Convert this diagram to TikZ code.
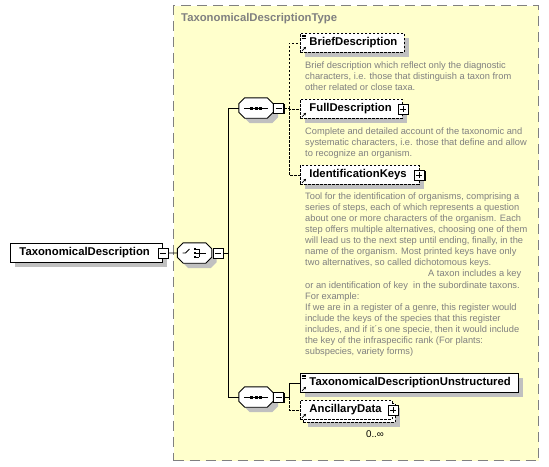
\documentclass[tikz,border=0pt]{standalone}
\usepackage{fontspec}
\setmainfont{Liberation Sans}
\usepackage{tikz}
\usetikzlibrary{positioning,shadows,arrows.meta}

\definecolor{typefill}{RGB}{255,255,204}
\definecolor{typeline}{RGB}{128,128,128}
\definecolor{doctext}{RGB}{128,128,128}
\definecolor{shadegray}{RGB}{192,192,192}

\newcommand{\elemfont}{\fontsize{11.3}{13}\selectfont\bfseries}
\newcommand{\docfont}{\fontsize{9.3}{11.07}\selectfont}
% small marks inside element boxes and compositors
\newcommand{\refarrow}[1]{\draw[line width=0.7pt,-{Stealth[length=2.4pt,width=2.6pt]}] ([shift={(2,-2)}]#1.south west) -- ++(4,-4);}
\newcommand{\simplemark}[1]{\foreach \k in {2,3.5,5} \draw[line width=0.5pt] ([shift={(1.5,\k)}]#1.north west) -- ++(4,0);}
% octagon outline round a compositor node
\newcommand{\octpath}[1]{([yshift=-6pt]#1.north west) -- ([xshift=6pt]#1.north west) -- ([xshift=-6pt]#1.north east)
  -- ([yshift=-6pt]#1.north east) -- ([yshift=6pt]#1.south east) -- ([xshift=-6pt]#1.south east)
  -- ([xshift=6pt]#1.south west) -- ([yshift=6pt]#1.south west) -- cycle}
\newcommand{\octshape}[1]{\fill[shadegray,transform canvas={shift={(5pt,-5pt)}}] \octpath{#1};
  \filldraw[fill=white,line width=0.9pt] \octpath{#1};}
\newcommand{\seqmark}[1]{\draw[line width=0.9pt] ([xshift=-12pt]#1.center) -- ([xshift=12pt]#1.center);
  \foreach \d in {-4.5,0,4.5} \fill ([xshift=\d pt]#1.center) +(-1.5,-1.5) rectangle +(1.5,1.5);}
\newcommand{\choicemark}[1]{\draw[line width=0.9pt] (#1.center) +(-12,0) -- +(-9,0) -- +(-5,-4);
  \draw[line width=0.9pt] (#1.center) +(4.5,-4) -- +(4.5,4) +(4.5,0) -- +(11,0);
  \foreach \d in {-4,0,4} {\fill (#1.center) +(-0.8,\d-1.1) rectangle +(1.4,\d+1.1);
    \draw[line width=0.7pt] (#1.center) +(1.4,\d) -- +(4.5,\d);}}

\begin{document}
\begin{tikzpicture}[x=1pt,y=-1pt,
    gshadow/.style={general shadow={fill=shadegray,shadow xshift=5pt,shadow yshift=-5pt}},
    elem/.style={draw,fill=white,line width=0.9pt,inner sep=0pt,minimum height=19pt,
      align=left,anchor=north west,font=\elemfont,execute at begin node={\hspace*{9pt}}},
    optelem/.style={elem,dash pattern=on 2.5pt off 1.5pt},
    doc/.style={inner sep=0pt,align=left,anchor=north west,font=\docfont,text=doctext},
    compositor/.style={inner sep=0pt,minimum width=34pt,minimum height=20pt},
    pmbox/.style={draw,fill=white,line width=0.8pt,inner sep=0pt,minimum size=10pt,
      general shadow={fill=black,shadow xshift=1.2pt,shadow yshift=-1.2pt}},
    minusbox/.style={pmbox,path picture={\draw ([xshift=2pt]path picture bounding box.west) -- ([xshift=-2pt]path picture bounding box.east);}},
    plusbox/.style={pmbox,path picture={\draw ([xshift=2pt]path picture bounding box.west) -- ([xshift=-2pt]path picture bounding box.east)
      ([yshift=-2pt]path picture bounding box.north) -- ([yshift=2pt]path picture bounding box.south);}},
    conn/.style={line width=0.9pt},
    optconn/.style={conn,dash pattern=on 2.5pt off 1.5pt}]
    \useasboundingbox (0,0) rectangle (549,466);

    % complex type frame
    \node[draw=typeline,fill=typefill,line width=1.3pt,dash pattern=on 10pt off 6pt,
      inner sep=0pt,minimum width=365pt,minimum height=455pt,anchor=north west] (tdtype) at (173,5) {};
    \node[anchor=west,inner sep=0pt,font=\elemfont,text=typeline] (tdtypename) at (181,19) {TaxonomicalDescriptionType};

    % root element and choice
    \node[elem,text width=152pt,gshadow] (td) at (10,243) {TaxonomicalDescription};
    \node[minusbox] (tdpm) at (td.east) {};
    \node[compositor] (choice) at (194.5,253) {};
    \octshape{choice}
    \choicemark{choice}
    \node[minusbox,right=1pt of choice] (choicepm) {};

    % sequences
    \node[compositor] (seqa) at (256,108) {};
    \octshape{seqa}
    \seqmark{seqa}
    \node[minusbox,right=0pt of seqa] (seqapm) {};
    \node[compositor] (seqb) at (256,397) {};
    \octshape{seqb}
    \seqmark{seqb}
    \node[minusbox,right=0pt of seqb] (seqbpm) {};

    % first sequence children
    \node[optelem,text width=104pt,gshadow] (brief) at (300,33) {BriefDescription};
    \simplemark{brief}
    \refarrow{brief}
    \node[doc] (briefdoc) at (305,61.5) {Brief description which reflect only the diagnostic\\
      characters, i.e. those that distinguish a taxon from\\other related or close taxa.};

    \node[optelem,text width=102pt,gshadow] (full) at (300,99) {FullDescription};
    \refarrow{full}
    \node[plusbox] (fullpm) at (full.east) {};
    \node[doc] (fulldoc) at (305,127.5) {Complete and detailed account of the taxonomic and\\
      systematic characters, i.e. those that define and allow\\to recognize an organism.};

    \node[optelem,text width=118.5pt,gshadow] (idkeys) at (300,165) {IdentificationKeys};
    \refarrow{idkeys}
    \node[plusbox] (idkeyspm) at (idkeys.east) {};
    \node[doc] (idkeysdoc) at (305,192.5) {Tool for the identification of organisms, comprising a\\
      series of steps, each of which represents a question\\
      about one or more characters of the organism. Each\\
      step offers multiple alternatives, choosing one of them\\
      will lead us to the next step until ending, finally, in the\\
      name of the organism. Most printed keys have only\\
      two alternatives, so called dichotomous keys.\\
      \hspace*{123pt}A taxon includes a key\\
      or an identification of key\ \ in the subordinate taxons.\\
      For example:\\
      If we are in a register of a genre, this register would\\
      include the keys of the species that this register\\
      includes, and if it´s one specie, then it would include\\
      the key of the infraspecific rank (For plants:\\
      subspecies, variety forms)};

    % second sequence children
    \node[elem,text width=218pt,gshadow] (unstr) at (300,373) {TaxonomicalDescriptionUnstructured};
    \simplemark{unstr}
    \refarrow{unstr}
    \node[optelem,text width=92pt,gshadow,execute at begin node={}] (ancilback) at (303,403) {};
    \node[optelem,text width=92pt] (ancil) at (300,400) {AncillaryData};
    \refarrow{ancil}
    \node[plusbox] (ancilpm) at (ancil.east) {};
    \node[inner sep=0pt,font=\fontsize{9.8}{11}\selectfont] (ancilocc) at (375,434) {0..∞};

    % connectors
    \coordinate (jtop) at (228,108);
    \coordinate (jmid) at (228,253);
    \coordinate (jbot) at (228,397);
    \coordinate (ra) at (289,108);
    \coordinate (rb) at (289,397);
    \draw[conn] (tdpm.east) -- (choice.west);
    \draw[conn] (choicepm.east) -- (jmid);
    \draw[conn] (seqa.west) -- (jtop) -- (jbot) -- (seqb.west);
    \draw[optconn] (seqapm.east) -- (ra);
    \draw[optconn] (ra) |- (brief.west);
    \draw[optconn] (ra) |- (full.west);
    \draw[optconn] (ra) |- (idkeys.west);
    \draw[conn] (seqbpm.east) -- (rb) |- (unstr.west);
    \draw[optconn] (rb) |- (ancil.west);
\end{tikzpicture}
\end{document}
